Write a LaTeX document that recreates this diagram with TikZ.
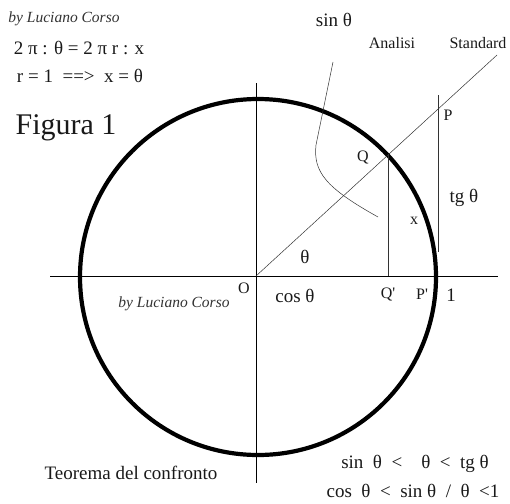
\documentclass[tikz,border=0pt]{standalone}
\usepackage{fontspec}
\setmainfont{Liberation Serif}
\usetikzlibrary{positioning}

\begin{document}
\begin{tikzpicture}[
  x=1pt, y=-1pt,
  lbl/.style={inner sep=0pt, font=\fontsize{19}{21}\selectfont, text=black!90},
  small/.style={inner sep=0pt, font=\fontsize{16}{18}\selectfont, text=black!90},
  sig/.style={inner sep=0pt, font=\itshape\fontsize{15.5}{17}\selectfont, text=black!80},
  axis/.style={line width=0.8pt},
  fine/.style={line width=0.5pt, black!80},
  ring/.style={line width=4.2pt}
]
\useasboundingbox (0,0) rectangle (510,503);
% punti principali
\coordinate (O) at (256,276);
\coordinate (xl) at (50,276);
\coordinate (xr) at (498,276);
\coordinate (yt) at (256,83);
\coordinate (yb) at (256,483);
\coordinate (rayEnd) at (497,55);
\coordinate (Q) at (388,154);
\coordinate (Qp) at (388,276);
\coordinate (Ptop) at (438,95);
\coordinate (Pbot) at (438,252);
\coordinate (sinTop) at (333,62);
\coordinate (sinEnd) at (378,217);
% cerchio e assi
\draw[ring] (258,277) circle (178);
\draw[axis] (xl) -- (xr);
\draw[axis] (yt) -- (yb);
\draw[fine] (O) -- (rayEnd);
\draw[fine] (Q) -- (Qp);
\draw[fine] (Ptop) -- (Pbot);
\draw[fine] (sinTop) -- (316,145) .. controls (313,172) and (326,188) .. (sinEnd);
% testi in alto
\node[sig] (sign) at (64,19) {by Luciano Corso};
\node[lbl] (prop) at (79,48) {2 π : θ = 2 π r : x};
\node[lbl] (rad) at (80,76) {r = 1 \ ==> \ x = θ};
\node[lbl, font=\fontsize{30}{32}\selectfont] (fig) at (66,128) {Figura 1};
\node[lbl] (sinl) at (334,20) {sin θ};
\node[small] (an) at (392,43) {Analisi};
\node[small] (st) at (478,43) {Standard};
% etichette della figura
\node[small] (Pl) at (448,115) {P};
\node[small] (Ql) at (363,157) {Q};
\node[lbl] (tgl) at (464,198) {tg θ};
\node[small] (xl2) at (414,221) {x};
\node[lbl] (th) at (305,257) {θ};
\node[small] (Ol) at (244,288) {O};
\node[lbl] (cosl) at (295,296) {cos θ};
\node[small] (Qpl) at (388,294) {Q\textquotesingle};
\node[small] (Ppl) at (422,294) {P\textquotesingle};
\node[lbl] (one) at (451,295) {1};
\node[sig] (sign2) at (174,304) {by Luciano Corso};
% testi in basso
\node[lbl] (teo) at (131,473) {Teorema del confronto};
\node[lbl] (dis1) at (415,464) {sin\enspace θ\enspace<\quad θ\enspace<\enspace tg θ};
\node[lbl] (dis2) at (413,491) {cos\enspace θ\enspace<\enspace sin θ\enspace/\enspace θ\enspace <1};
\end{tikzpicture}
\end{document}
